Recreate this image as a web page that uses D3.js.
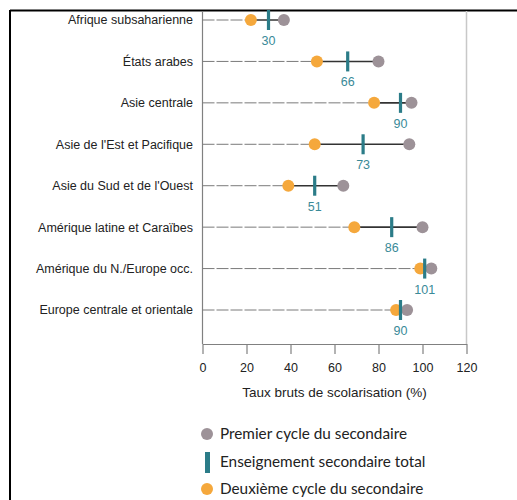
<!DOCTYPE html>
<html><head><meta charset="utf-8">
<script src="https://cdn.jsdelivr.net/npm/d3@7"></script>
<style>
body{margin:0;background:#fff;}
svg{display:block;}
.lab{font-family:"Liberation Sans Narrow","Arial Narrow","Liberation Sans",sans-serif;}
.leg{font-family:Lato,"Open Sans",sans-serif;}
</style></head>
<body>
<svg id="c" width="517" height="500"></svg>
<script>
const categories = ["Afrique subsaharienne","États arabes","Asie centrale","Asie de l'Est et Pacifique","Asie du Sud et de l'Ouest","Amérique latine et Caraïbes","Amérique du N./Europe occ.","Europe centrale et orientale"];
const premierCycle = [37, 80, 95, 94, 64, 100, 104, 93];
const totalSecondaire = [30, 66, 90, 73, 51, 86, 101, 90];
const deuxiemeCycle = [22, 52, 78, 51, 39, 69, 99, 88];
const xTicks = [0, 20, 40, 60, 80, 100, 120];
const legendLabels = ["Premier cycle du secondaire","Enseignement secondaire total","Deuxième cycle du secondaire"];

const cGrey = "#9d9298", cTeal = "#2b7c88", cOrange = "#f5a83c";
const svg = d3.select("#c");
const x = d3.scaleLinear().domain([0,120]).range([202.5,466.5]);
const y = d3.scalePoint().domain(categories).range([20,310]);
const axisY = 344;

// page frame
svg.append("line").attr("x1",10).attr("x2",517).attr("y1",10.5).attr("y2",10.5).attr("stroke","#000").attr("stroke-width",2);
svg.append("line").attr("x1",10).attr("x2",10).attr("y1",10).attr("y2",500).attr("stroke","#000").attr("stroke-width",2);

// right light line
svg.append("line").attr("x1",x(120)).attr("x2",x(120)).attr("y1",11).attr("y2",axisY).attr("stroke","#c8c8c8").attr("stroke-width",1.5);
// left axis line
svg.append("line").attr("x1",x(0)).attr("x2",x(0)).attr("y1",11).attr("y2",axisY).attr("stroke","#808080").attr("stroke-width",1.2);

// bottom axis
const ax = svg.append("g").attr("transform",`translate(0,${axisY})`)
  .call(d3.axisBottom(x).tickValues(xTicks).tickSize(10).tickSizeOuter(0).tickPadding(9));
ax.select(".domain").attr("stroke","#808080").attr("stroke-width",1.2);
ax.selectAll(".tick line").attr("stroke","#808080").attr("stroke-width",1.2);
ax.selectAll(".tick text").attr("class","lab").attr("font-size",12.5).attr("fill","#222");

svg.append("text").attr("class","lab").attr("x",(x(0)+x(120))/2).attr("y",397)
  .attr("text-anchor","middle").attr("font-size",13.5).attr("fill","#222").text("Taux bruts de scolarisation (%)");

// category labels
svg.append("g").selectAll("text").data(categories).join("text")
  .attr("class","lab").attr("x",193).attr("y",d=>y(d)).attr("dy","0.35em")
  .attr("text-anchor","end").attr("font-size",12.5).attr("fill","#222").text(d=>d);

const rows = categories.map((c,i)=>({c, g:premierCycle[i], t:totalSecondaire[i], o:deuxiemeCycle[i]}));
const rg = svg.append("g").selectAll("g").data(rows).join("g");
rg.append("line").attr("x1",x(0)).attr("x2",d=>x(Math.min(d.o,d.g))).attr("y1",d=>y(d.c)).attr("y2",d=>y(d.c))
  .attr("stroke","#7a7a7a").attr("stroke-width",1).attr("stroke-dasharray","12,2");
rg.append("line").attr("x1",d=>x(Math.min(d.o,d.g))).attr("x2",d=>x(Math.max(d.o,d.g))).attr("y1",d=>y(d.c)).attr("y2",d=>y(d.c))
  .attr("stroke","#333").attr("stroke-width",1.6);
rg.append("circle").attr("cx",d=>x(d.g)).attr("cy",d=>y(d.c)).attr("r",6).attr("fill",cGrey);
rg.append("circle").attr("cx",d=>x(d.o)).attr("cy",d=>y(d.c)).attr("r",6).attr("fill",cOrange);
rg.append("rect").attr("x",d=>x(d.t)-1.6).attr("y",d=>y(d.c)-10).attr("width",3.2).attr("height",20).attr("fill",cTeal);
rg.append("text").attr("class","lab").attr("x",d=>x(d.t)).attr("y",d=>y(d.c)+25)
  .attr("text-anchor","middle").attr("font-size",12.5).attr("fill","#3a8a98").text(d=>d.t);

// legend
const lg = svg.append("g");
lg.append("circle").attr("cx",207).attr("cy",434).attr("r",6).attr("fill",cGrey);
lg.append("rect").attr("x",205).attr("y",452).attr("width",5).attr("height",21).attr("fill",cTeal);
lg.append("circle").attr("cx",207).attr("cy",489).attr("r",6).attr("fill",cOrange);
[434,462,489].forEach((yy,i)=>{
  lg.append("text").attr("class","leg").attr("x",220).attr("y",yy).attr("dy","0.35em")
    .attr("font-size",15.3).attr("fill","#222").text(legendLabels[i]);
});
</script>
</body></html>
